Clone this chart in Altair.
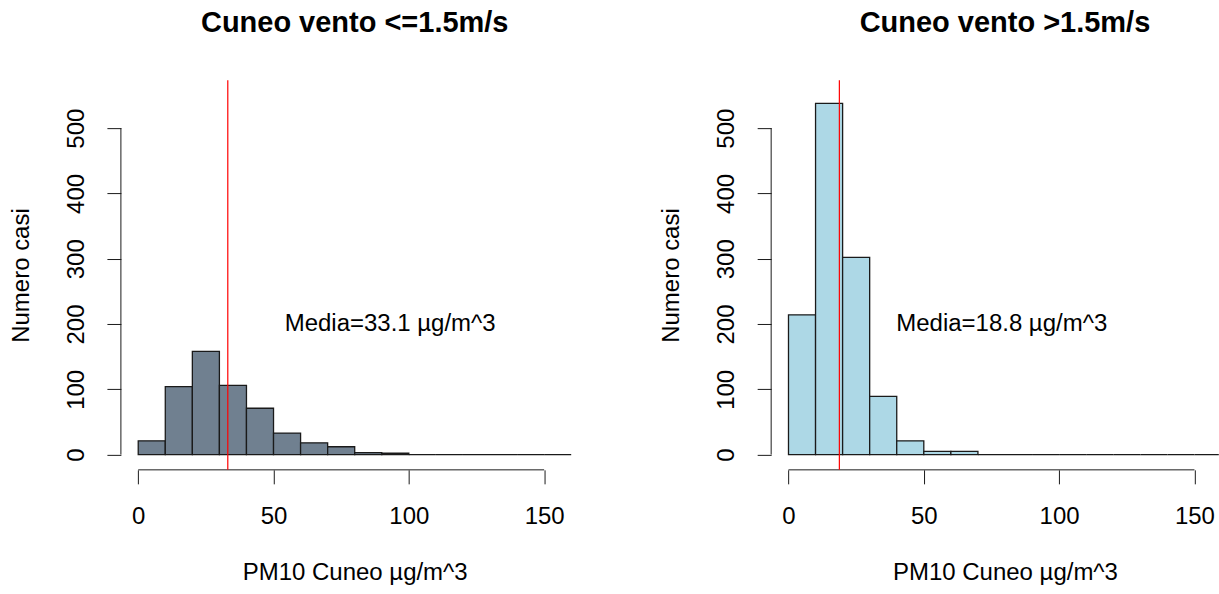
import altair as alt
import pandas as pd

# ---- data ----
bin_starts = [0, 10, 20, 30, 40, 50, 60, 70, 80, 90, 100, 110, 120, 130, 140, 150]
bin_width = 10
counts_low = [21, 104, 158, 106, 71, 33, 18, 12, 3, 2, 0, 0, 0, 0, 0, 0]
counts_high = [214, 538, 302, 89, 21, 5, 5, 0, 0, 0, 0, 0, 0, 0, 0, 0]
means = [33.1, 18.8]
panel_titles = ["Cuneo vento <=1.5m/s", "Cuneo vento >1.5m/s"]
fills = ["#708090", "#ADD8E6"]
x_ticks = [0, 50, 100, 150]
y_ticks = [0, 100, 200, 300, 400, 500]
x_title = "PM10 Cuneo µg/m^3"
y_title = "Numero casi"
label_y = 200
label_dx = 60

FONT = "Liberation Sans"
H = 390
FULL_W = 468
INK = "#1a1a1a"


def panel(counts, mean, title, fill, width, xmax, title_dx):
    df = pd.DataFrame({
        "start": bin_starts,
        "end": [b + bin_width for b in bin_starts],
        "count": counts,
    })
    xs = alt.Scale(domain=[-6.4, xmax], nice=False, zero=False)
    ys = alt.Scale(domain=[-23.4, 573.5], nice=False, zero=False)

    xaxis = alt.Axis(values=x_ticks, domain=False, grid=False, tickSize=14,
                     tickColor=INK, tickWidth=1, labelFontSize=24, labelFont=FONT,
                     labelColor="black", labelPadding=40, labelBaseline="alphabetic",
                     labelAlign="center", labelFlush=False, labelOverlap=False,
                     title=x_title, titleFontSize=24, titleFont=FONT, titleFontWeight="normal",
                     titleColor="black", titleBaseline="alphabetic", titleAlign="center",
                     titleX=FULL_W / 2, titleY=109.7, format="d")
    yaxis = alt.Axis(values=y_ticks, domain=False, grid=False, tickSize=14,
                     tickColor=INK, tickWidth=1, labelFontSize=24, labelFont=FONT,
                     labelColor="black", labelPadding=23.3, labelAngle=270,
                     labelAlign="center", labelBaseline="alphabetic", labelFlush=False,
                     labelOverlap=False,
                     title=y_title, titleFontSize=24, titleFont=FONT, titleFontWeight="normal",
                     titleColor="black", titleAngle=270, titleBaseline="alphabetic",
                     titleAlign="center", titleX=-92.5, titleY=H / 2, format="d")

    bars = alt.Chart(df).mark_rect(fill=fill, stroke=INK, strokeWidth=1.3, clip=True).encode(
        x=alt.X("start:Q", scale=xs, axis=xaxis),
        x2="end:Q",
        y=alt.Y("count:Q", scale=ys, axis=yaxis),
        y2=alt.datum(0),
    )

    yline_df = pd.DataFrame({"y0": [y_ticks[0]], "y1": [y_ticks[-1]]})
    yline = alt.Chart(yline_df).mark_rule(color=INK, strokeWidth=1).encode(
        x=alt.value(0), y="y0:Q", y2="y1:Q")

    xline_df = pd.DataFrame({"x0": [x_ticks[0]], "x1": [x_ticks[-1]]})
    xline = alt.Chart(xline_df).mark_rule(color=INK, strokeWidth=1).encode(
        x="x0:Q", x2="x1:Q", y=alt.value(H))

    mean_df = pd.DataFrame({"m": [mean]})
    mline = alt.Chart(mean_df).mark_rule(color="#FF0000", strokeWidth=1.2).encode(
        x="m:Q", y=alt.value(0), y2=alt.value(H))

    txt_df = pd.DataFrame({"tx": [mean + label_dx], "ty": [label_y],
                           "t": [f"Media={mean} µg/m^3"]})
    txt = alt.Chart(txt_df).mark_text(font=FONT, fontSize=24, color="black",
                                      align="center", baseline="middle").encode(
        x="tx:Q", y="ty:Q", text="t:N")

    return alt.layer(bars, yline, xline, mline, txt).properties(
        width=width, height=H,
        title=alt.Title(title, fontSize=29, fontWeight="bold", font=FONT, color="black",
                        anchor="middle", frame="group", baseline="alphabetic",
                        offset=19, dx=title_dx),
    )


left = panel(counts_low, means[0], panel_titles[0], fills[0], 468, 166.4, 0)
right = panel(counts_high, means[1], panel_titles[1], fills[1], 448, 159.0, 10)

chart = alt.hconcat(left, right, spacing=182.8, bounds="flush").properties(
    padding={"left": 9, "top": 8, "right": 0, "bottom": 0},
    background="white",
).configure_view(strokeWidth=0, stroke="transparent")

chart.save("out.html", embed_options={"renderer": "svg", "actions": False})
